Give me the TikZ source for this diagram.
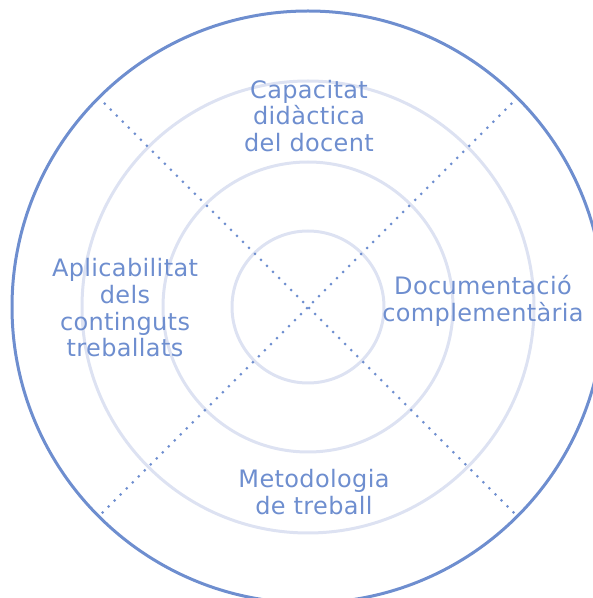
\documentclass[tikz,border=0pt]{standalone}
\usepackage{fontspec}
\usetikzlibrary{calc}
\setmainfont{DejaVu Sans}[LetterSpace=1.5]
\definecolor{mainblue}{HTML}{6E8ECF}
\definecolor{ringgray}{HTML}{DDE2F2}
\begin{document}
\begin{tikzpicture}[x=1pt,y=1pt,
  ring/.style={draw=ringgray,line width=3pt},
  outerring/.style={draw=mainblue,line width=3pt},
  dotline/.style={draw=mainblue,line width=3pt,line cap=round,dash pattern=on 0pt off 8.5pt},
  label/.style={text=mainblue,align=center,inner sep=0pt,font=\fontsize{24}{26.7}\selectfont}]
\useasboundingbox (0,0) rectangle (593,598);
\coordinate (c) at (308,291);
\draw[ring] (c) circle[radius=76];
\draw[ring] (c) circle[radius=145];
\draw[ring] (c) circle[radius=226];
\coordinate (d1) at ($(c)+(135:296)$);
\coordinate (d2) at ($(c)+(-45:296)$);
\coordinate (d3) at ($(c)+(45:296)$);
\coordinate (d4) at ($(c)+(225:296)$);
\draw[dotline] (d1) -- (d2);
\draw[dotline] (d3) -- (d4);
\draw[outerring] (c) circle[radius=296];
\node[label] (cap) at (309,482) {Capacitat\\didàctica\\del docent};
\node[label] (doc) at (483,297) {Documentació\\complementària};
\node[label] (apl) at (125,290) {Aplicabilitat\\dels\\continguts\\treballats};
\node[label] (met) at (314,106) {Metodologia\\de treball};
\end{tikzpicture}
\end{document}
